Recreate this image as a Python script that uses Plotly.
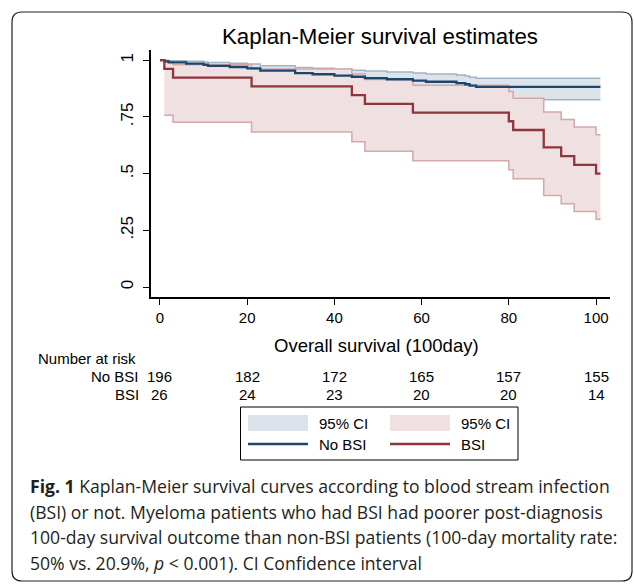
import plotly.graph_objects as go

# ---------------- data ----------------
# No BSI Kaplan-Meier estimate and 95% CI
nobsi_t = [0, 1, 2, 6, 10, 11, 16, 20, 23, 31, 35, 40, 44, 47, 52, 58, 61, 68, 70, 71, 72.5, 101]
nobsi_s = [1.0, .995, .990, .985, .980, .975, .970, .964, .954, .943, .938, .932, .927, .921,
           .916, .910, .905, .899, .894, .888, .882, .882]
nobsi_ci_t = [1, 2, 6, 10, 11, 16, 20, 23, 31, 35, 40, 44, 47, 52, 58, 61, 68, 70, 71, 72.5, 101]
nobsi_hi = [.9993, .9975, .9951, .9924, .9894, .9863, .9830, .9758, .9682, .9643, .9602, .9561,
            .9519, .9476, .9434, .9389, .9345, .9300, .9254, .9208, .9208]
nobsi_lo = [.9636, .9596, .9531, .9461, .9393, .9325, .9259, .9124, .8989, .8922, .8856, .8790,
            .8723, .8657, .8591, .8524, .8458, .8392, .8325, .8260, .8260]

# BSI Kaplan-Meier estimate and 95% CI
bsi_t = [0, 1, 3, 21, 44, 47, 58, 80, 81, 88, 92, 95, 100, 101]
bsi_s = [1.0, .9615, .9231, .8846, .8462, .8077, .7692, .7308, .6923, .6154, .5769, .5385, .5, .5]
bsi_ci_t = [1, 3, 21, 44, 47, 58, 80, 81, 88, 92, 95, 100, 101]
bsi_hi = [.9945, .9802, .9613, .9393, .9151, .8891, .8615, .8327, .7713, .7391, .7059, .6716, .6716]
bsi_lo = [.757, .726, .6836, .6405, .5981, .5569, .5169, .4779, .4034, .3676, .3329, .2991, .2991]

# Number at risk table
risk_times = [0, 20, 40, 60, 80, 100]
risk_nobsi = [196, 182, 172, 165, 157, 155]
risk_bsi = [26, 24, 23, 20, 20, 14]

x_ticks = [0, 20, 40, 60, 80, 100]
y_ticks = [0, .25, .5, .75, 1]
y_ticktext = ["0", ".25", ".5", ".75", "1"]

caption_lines = [
    "<b>Fig. 1</b> Kaplan-Meier survival curves according to blood stream infection",
    "(BSI) or not. Myeloma patients who had BSI had poorer post-diagnosis",
    "100-day survival outcome than non-BSI patients (100-day mortality rate:",
    "50% vs. 20.9%, <i>p</i> &lt; 0.001). CI Confidence interval",
]

# ---------------- styling ----------------
NAVY = "#1a476f"
MAROON = "#90353b"
NAVY_FILL = "#dde3ea"
MAROON_FILL = "#efe0e1"
NAVY_EDGE = "#a3b5c5"
MAROON_EDGE = "#d5a7aa"
FONT = "Liberation Sans, Arial, sans-serif"
CAP_FONT = "Open Sans, Noto Sans, sans-serif"

W, H = 634, 584
L, R, T, B = 151, 610, 50, 297  # plot area in pixels


def xp(px):
    return (px - L) / (R - L)


def yp(py):
    return (B - py) / (B - T)


fig = go.Figure()

# CI bands (blue first, pink drawn over it)
fig.add_trace(go.Scatter(x=nobsi_ci_t, y=nobsi_lo, mode="lines", line=dict(color=NAVY_EDGE, width=1.5, shape="hv"),
                         showlegend=False, hoverinfo="skip"))
fig.add_trace(go.Scatter(x=nobsi_ci_t, y=nobsi_hi, mode="lines", line=dict(color=NAVY_EDGE, width=1.5, shape="hv"),
                         fill="tonexty", fillcolor=NAVY_FILL, showlegend=False, hoverinfo="skip"))
fig.add_trace(go.Scatter(x=bsi_ci_t, y=bsi_lo, mode="lines", line=dict(color=MAROON_EDGE, width=1.5, shape="hv"),
                         showlegend=False, hoverinfo="skip"))
fig.add_trace(go.Scatter(x=bsi_ci_t, y=bsi_hi, mode="lines", line=dict(color=MAROON_EDGE, width=1.5, shape="hv"),
                         fill="tonexty", fillcolor=MAROON_FILL, showlegend=False, hoverinfo="skip"))

# survival curves
fig.add_trace(go.Scatter(x=nobsi_t, y=nobsi_s, mode="lines", line=dict(color=NAVY, width=2.3, shape="hv"),
                         name="No BSI", showlegend=False))
fig.add_trace(go.Scatter(x=bsi_t, y=bsi_s, mode="lines", line=dict(color=MAROON, width=2.3, shape="hv"),
                         name="BSI", showlegend=False))

annotations = []
shapes = []

# x-axis title
annotations.append(dict(x=xp(376), y=yp(345), xref="paper", yref="paper", text="Overall survival (100day)",
                        showarrow=False, font=dict(family=FONT, size=18.5, color="black"),
                        xanchor="center", yanchor="middle"))

# number at risk table
annotations.append(dict(x=xp(36), y=yp(358), xref="paper", yref="paper", text="Number at risk",
                        showarrow=False, font=dict(family=FONT, size=15, color="black"),
                        xanchor="left", yanchor="middle"))
for label, ypx in (("No BSI", 376.5), ("BSI", 394)):
    annotations.append(dict(x=xp(141), y=yp(ypx), xref="paper", yref="paper", text=label,
                            showarrow=False, font=dict(family=FONT, size=15, color="black"),
                            xanchor="right", yanchor="middle"))
for t, n1, n2 in zip(risk_times, risk_nobsi, risk_bsi):
    annotations.append(dict(x=t, y=yp(376.5), xref="x", yref="paper", text=str(n1), showarrow=False,
                            font=dict(family=FONT, size=15, color="black"), xanchor="center", yanchor="middle"))
    annotations.append(dict(x=t, y=yp(394), xref="x", yref="paper", text=str(n2), showarrow=False,
                            font=dict(family=FONT, size=15, color="black"), xanchor="center", yanchor="middle"))

# legend box
shapes.append(dict(type="rect", xref="paper", yref="paper", x0=xp(240.5), x1=xp(518), y0=yp(407), y1=yp(460),
                   line=dict(color="black", width=1), fillcolor="white"))
shapes.append(dict(type="rect", xref="paper", yref="paper", x0=xp(248), x1=xp(308), y0=yp(415), y1=yp(431),
                   line=dict(width=0), fillcolor=NAVY_FILL))
shapes.append(dict(type="rect", xref="paper", yref="paper", x0=xp(390), x1=xp(450), y0=yp(415), y1=yp(431),
                   line=dict(width=0), fillcolor=MAROON_FILL))
shapes.append(dict(type="line", xref="paper", yref="paper", x0=xp(248), x1=xp(308), y0=yp(444), y1=yp(444),
                   line=dict(color=NAVY, width=2.3)))
shapes.append(dict(type="line", xref="paper", yref="paper", x0=xp(390), x1=xp(450), y0=yp(444), y1=yp(444),
                   line=dict(color=MAROON, width=2.3)))
for txt, xpx, ypx in (("95% CI", 317, 423), ("95% CI", 459, 423), ("No BSI", 317, 444.5), ("BSI", 459, 444.5)):
    annotations.append(dict(x=xp(xpx), y=yp(ypx), xref="paper", yref="paper", text=txt, showarrow=False,
                            font=dict(family=FONT, size=15, color="black"), xanchor="left", yanchor="middle"))

# caption
for i, line in enumerate(caption_lines):
    annotations.append(dict(x=xp(28), y=yp(486 + 25.7 * i), xref="paper", yref="paper", text=line,
                            showarrow=False, font=dict(family=CAP_FONT, size=17.6, color="#231f20"),
                            xanchor="left", yanchor="middle"))

# rounded outer panel border
x0, y0, x1, y1, r = 12, 12, 632, 581, 10


def P(px, py):
    return f"{xp(px):.5f},{yp(py):.5f}"


path = (f"M {P(x0 + r, y0)} L {P(x1 - r, y0)} Q {P(x1, y0)} {P(x1, y0 + r)} "
        f"L {P(x1, y1 - r)} Q {P(x1, y1)} {P(x1 - r, y1)} "
        f"L {P(x0 + r, y1)} Q {P(x0, y1)} {P(x0, y1 - r)} "
        f"L {P(x0, y0 + r)} Q {P(x0, y0)} {P(x0 + r, y0)} Z")
shapes.append(dict(type="path", xref="paper", yref="paper", path=path, line=dict(color="#231f20", width=1.2)))

fig.update_layout(
    width=W, height=H,
    margin=dict(l=L, r=W - R, t=T, b=H - B, pad=0),
    paper_bgcolor="white", plot_bgcolor="white",
    title=dict(text="Kaplan-Meier survival estimates", x=xp(380), xref="paper", xanchor="center",
               y=1 - 36 / H, yref="container", yanchor="middle",
               font=dict(family=FONT, size=22.3, color="black")),
    xaxis=dict(range=[-2.06, 103.2], tickvals=x_ticks, ticks="outside", ticklen=6, tickwidth=1, tickcolor="black",
               showline=True, linecolor="black", linewidth=1.8, showgrid=False, zeroline=False,
               tickfont=dict(family=FONT, size=15, color="black")),
    yaxis=dict(range=[-0.044, 1.045], tickvals=y_ticks, ticktext=y_ticktext, tickangle=-90, ticks="outside",
               ticklen=6, tickwidth=1, tickcolor="black", showline=True, linecolor="black", linewidth=1.8,
               showgrid=False, zeroline=False, ticklabelstandoff=3,
               tickfont=dict(family=FONT, size=17, color="black")),
    annotations=annotations,
    shapes=shapes,
    showlegend=False,
)

fig.write_html("out.html", config={"displayModeBar": False},
               post_script="document.body.style.margin='0';")
